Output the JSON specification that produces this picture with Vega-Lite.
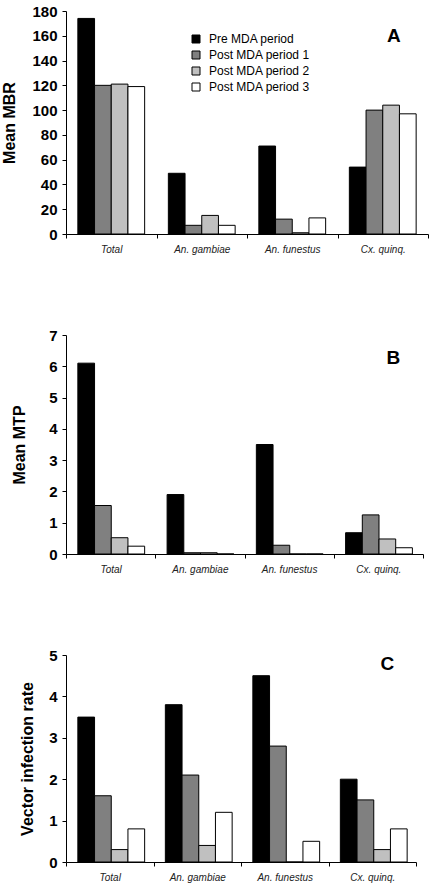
{
  "$schema": "https://vega.github.io/schema/vega-lite/v6.json",
  "padding": {"top": 4, "left": 1, "right": 5, "bottom": 4},
  "background": "white",
  "config": {
    "view": {"stroke": null},
    "font": "Liberation Sans",
    "axisY": {"grid": false, "domainColor": "black", "tickColor": "black", "tickSize": 4, "labelFont": "Liberation Sans", "labelFontWeight": "bold", "labelFontSize": 15, "labelColor": "black", "labelPadding": 5, "labelOverlap": false, "labelFlush": false, "titleFont": "Liberation Sans", "titleFontSize": 16, "titleFontWeight": "bold", "titleColor": "black"},
    "axisX": {"domainColor": "black", "tickColor": "black", "tickSize": 4, "tickBand": "extent", "labelFont": "Liberation Sans", "labelFontStyle": "italic", "labelFontSize": 10, "labelColor": "#222222", "labelPadding": 6, "labelAngle": 0, "title": null}
  },
  "datasets": {
    "mbr": [
      {"species": "Total", "period": "Pre MDA period", "value": 174},
      {"species": "Total", "period": "Post MDA period 1", "value": 120},
      {"species": "Total", "period": "Post MDA period 2", "value": 121},
      {"species": "Total", "period": "Post MDA period 3", "value": 119},
      {"species": "An. gambiae", "period": "Pre MDA period", "value": 49},
      {"species": "An. gambiae", "period": "Post MDA period 1", "value": 7},
      {"species": "An. gambiae", "period": "Post MDA period 2", "value": 15},
      {"species": "An. gambiae", "period": "Post MDA period 3", "value": 7},
      {"species": "An. funestus", "period": "Pre MDA period", "value": 71},
      {"species": "An. funestus", "period": "Post MDA period 1", "value": 12},
      {"species": "An. funestus", "period": "Post MDA period 2", "value": 1},
      {"species": "An. funestus", "period": "Post MDA period 3", "value": 13},
      {"species": "Cx. quinq.", "period": "Pre MDA period", "value": 54},
      {"species": "Cx. quinq.", "period": "Post MDA period 1", "value": 100},
      {"species": "Cx. quinq.", "period": "Post MDA period 2", "value": 104},
      {"species": "Cx. quinq.", "period": "Post MDA period 3", "value": 97}
    ],
    "mtp": [
      {"species": "Total", "period": "Pre MDA period", "value": 6.1},
      {"species": "Total", "period": "Post MDA period 1", "value": 1.55},
      {"species": "Total", "period": "Post MDA period 2", "value": 0.52},
      {"species": "Total", "period": "Post MDA period 3", "value": 0.25},
      {"species": "An. gambiae", "period": "Pre MDA period", "value": 1.9},
      {"species": "An. gambiae", "period": "Post MDA period 1", "value": 0.04},
      {"species": "An. gambiae", "period": "Post MDA period 2", "value": 0.04},
      {"species": "An. gambiae", "period": "Post MDA period 3", "value": 0},
      {"species": "An. funestus", "period": "Pre MDA period", "value": 3.5},
      {"species": "An. funestus", "period": "Post MDA period 1", "value": 0.28},
      {"species": "An. funestus", "period": "Post MDA period 2", "value": 0},
      {"species": "An. funestus", "period": "Post MDA period 3", "value": 0},
      {"species": "Cx. quinq.", "period": "Pre MDA period", "value": 0.68},
      {"species": "Cx. quinq.", "period": "Post MDA period 1", "value": 1.25},
      {"species": "Cx. quinq.", "period": "Post MDA period 2", "value": 0.48},
      {"species": "Cx. quinq.", "period": "Post MDA period 3", "value": 0.2}
    ],
    "vir": [
      {"species": "Total", "period": "Pre MDA period", "value": 3.5},
      {"species": "Total", "period": "Post MDA period 1", "value": 1.6},
      {"species": "Total", "period": "Post MDA period 2", "value": 0.3},
      {"species": "Total", "period": "Post MDA period 3", "value": 0.8},
      {"species": "An. gambiae", "period": "Pre MDA period", "value": 3.8},
      {"species": "An. gambiae", "period": "Post MDA period 1", "value": 2.1},
      {"species": "An. gambiae", "period": "Post MDA period 2", "value": 0.4},
      {"species": "An. gambiae", "period": "Post MDA period 3", "value": 1.2},
      {"species": "An. funestus", "period": "Pre MDA period", "value": 4.5},
      {"species": "An. funestus", "period": "Post MDA period 1", "value": 2.8},
      {"species": "An. funestus", "period": "Post MDA period 2", "value": 0},
      {"species": "An. funestus", "period": "Post MDA period 3", "value": 0.5},
      {"species": "Cx. quinq.", "period": "Pre MDA period", "value": 2.0},
      {"species": "Cx. quinq.", "period": "Post MDA period 1", "value": 1.5},
      {"species": "Cx. quinq.", "period": "Post MDA period 2", "value": 0.3},
      {"species": "Cx. quinq.", "period": "Post MDA period 3", "value": 0.8}
    ]
  },
  "spacing": 74,
  "resolve": {"legend": {"color": "independent"}},
  "vconcat": [
    {
      "width": 362,
      "height": 223,
      "layer": [
        {
          "data": {"name": "mbr"},
          "mark": {"type": "bar", "stroke": "black", "strokeWidth": 1},
          "encoding": {
            "x": {"field": "species", "type": "nominal", "sort": ["Total", "An. gambiae", "An. funestus", "Cx. quinq."], "scale": {"paddingInner": 0, "paddingOuter": 0}},
            "xOffset": {"field": "period", "type": "nominal", "sort": ["Pre MDA period", "Post MDA period 1", "Post MDA period 2", "Post MDA period 3"], "scale": {"paddingInner": 0, "paddingOuter": 0.71}},
            "y": {"field": "value", "type": "quantitative", "title": "Mean MBR", "scale": {"domain": [0, 180], "nice": false}, "axis": {"values": [0, 20, 40, 60, 80, 100, 120, 140, 160, 180], "labelOverlap": false, "titlePadding": 14}},
            "color": {"field": "period", "type": "nominal", "sort": ["Pre MDA period", "Post MDA period 1", "Post MDA period 2", "Post MDA period 3"], "scale": {"domain": ["Pre MDA period", "Post MDA period 1", "Post MDA period 2", "Post MDA period 3"], "range": ["#000000", "#808080", "#c0c0c0", "#ffffff"]},
              "legend": {"title": null, "orient": "none", "legendX": 124, "legendY": 22, "symbolType": "square", "symbolSize": 64, "symbolStrokeColor": "black", "symbolStrokeWidth": 1, "labelFont": "Liberation Sans", "labelFontSize": 12, "labelColor": "black", "rowPadding": 4, "labelOffset": 7}}
          }
        },
        {
          "data": {"values": [{"panel": "A"}]},
          "mark": {"type": "text", "font": "Liberation Sans", "fontSize": 19, "fontWeight": "bold", "color": "black", "dx": 11},
          "encoding": {
            "text": {"field": "panel"},
            "x": {"datum": "Cx. quinq.", "type": "nominal"},
            "y": {"datum": 160, "type": "quantitative", "title": "Mean MBR", "axis": {"values": [0, 20, 40, 60, 80, 100, 120, 140, 160, 180], "labelOverlap": false, "titlePadding": 14}}
          }
        }
      ]
    },
    {
      "width": 357,
      "height": 219,
      "layer": [
        {
          "data": {"name": "mtp"},
          "mark": {"type": "bar", "stroke": "black", "strokeWidth": 1},
          "encoding": {
            "x": {"field": "species", "type": "nominal", "sort": ["Total", "An. gambiae", "An. funestus", "Cx. quinq."], "scale": {"paddingInner": 0, "paddingOuter": 0}},
            "xOffset": {"field": "period", "type": "nominal", "sort": ["Pre MDA period", "Post MDA period 1", "Post MDA period 2", "Post MDA period 3"], "scale": {"paddingInner": 0, "paddingOuter": 0.71}},
            "y": {"field": "value", "type": "quantitative", "title": "Mean MTP", "scale": {"domain": [0, 7], "nice": false}, "axis": {"values": [0, 1, 2, 3, 4, 5, 6, 7], "labelOverlap": false, "titlePadding": 21}},
            "color": {"field": "period", "type": "nominal", "scale": {"domain": ["Pre MDA period", "Post MDA period 1", "Post MDA period 2", "Post MDA period 3"], "range": ["#000000", "#808080", "#c0c0c0", "#ffffff"]}, "legend": null}
          }
        },
        {
          "data": {"values": [{"panel": "B"}]},
          "mark": {"type": "text", "font": "Liberation Sans", "fontSize": 19, "fontWeight": "bold", "color": "black", "dx": 15},
          "encoding": {
            "text": {"field": "panel"},
            "x": {"datum": "Cx. quinq.", "type": "nominal"},
            "y": {"datum": 6.25, "type": "quantitative", "title": "Mean MTP", "axis": {"values": [0, 1, 2, 3, 4, 5, 6, 7], "labelOverlap": false, "titlePadding": 21}}
          }
        }
      ]
    },
    {
      "width": 350,
      "height": 207,
      "layer": [
        {
          "data": {"name": "vir"},
          "mark": {"type": "bar", "stroke": "black", "strokeWidth": 1},
          "encoding": {
            "x": {"field": "species", "type": "nominal", "sort": ["Total", "An. gambiae", "An. funestus", "Cx. quinq."], "scale": {"paddingInner": 0, "paddingOuter": 0}},
            "xOffset": {"field": "period", "type": "nominal", "sort": ["Pre MDA period", "Post MDA period 1", "Post MDA period 2", "Post MDA period 3"], "scale": {"paddingInner": 0, "paddingOuter": 0.71}},
            "y": {"field": "value", "type": "quantitative", "title": "Vector infection rate", "scale": {"domain": [0, 5], "nice": false}, "axis": {"values": [0, 1, 2, 3, 4, 5], "labelOverlap": false, "titlePadding": 13}},
            "color": {"field": "period", "type": "nominal", "scale": {"domain": ["Pre MDA period", "Post MDA period 1", "Post MDA period 2", "Post MDA period 3"], "range": ["#000000", "#808080", "#c0c0c0", "#ffffff"]}, "legend": null}
          }
        },
        {
          "data": {"values": [{"panel": "C"}]},
          "mark": {"type": "text", "font": "Liberation Sans", "fontSize": 19, "fontWeight": "bold", "color": "black", "dx": 15},
          "encoding": {
            "text": {"field": "panel"},
            "x": {"datum": "Cx. quinq.", "type": "nominal"},
            "y": {"datum": 4.78, "type": "quantitative", "title": "Vector infection rate", "axis": {"values": [0, 1, 2, 3, 4, 5], "labelOverlap": false, "titlePadding": 13}}
          }
        }
      ]
    }
  ]
}
